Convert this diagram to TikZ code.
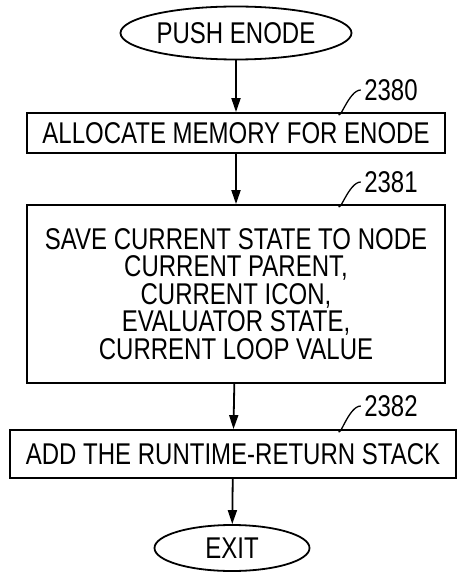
\documentclass[tikz,border=0pt]{standalone}
\usepackage{fontspec}
\setmainfont{Liberation Sans}[FakeStretch=0.8]
\usetikzlibrary{shapes.geometric,arrows.meta,calc}

\begin{document}
\begin{tikzpicture}[
  x=1pt, y=-1pt,
  every node/.style={font=\fontsize{30}{27.6}\selectfont},
  proc/.style={rectangle, draw, line width=1.8pt, minimum width=418pt, align=center, inner sep=2pt},
  term/.style={ellipse, draw, line width=1.8pt, inner sep=0pt},
  arr/.style={-{Triangle[length=14pt,width=9pt]}, line width=1.8pt},
  lead/.style={line width=1.3pt},
]
\useasboundingbox (0,0) rectangle (457,577);

\node[term, minimum width=231pt, minimum height=53pt] (push) at (236,33) {PUSH ENODE};
\node[proc, minimum height=40pt] (alloc) at (236,133) {ALLOCATE MEMORY FOR ENODE};
\node[proc, minimum height=178pt] (save) at (236,294) {SAVE CURRENT STATE TO NODE\\CURRENT PARENT,\\CURRENT ICON,\\EVALUATOR STATE,\\CURRENT LOOP VALUE};
\node[proc, minimum width=446pt, minimum height=48pt] (add) at (233,454) {ADD THE RUNTIME-RETURN STACK};
\node[term, minimum width=155pt, minimum height=46pt] (exit) at (232,548) {EXIT};

% reference numerals
\node (n2380) at (391,90) {2380};
\node (n2381) at (391,182) {2381};
\node (n2382) at (391,406) {2382};

\draw[arr] (push) -- (alloc);
\draw[arr] (alloc) -- (save);
\draw[arr] (save) -- (add);
\draw[arr] (add) -- (exit);

\draw[lead] ($(n2380.west |- alloc.north)+(-22,0)$) to[out=-90,in=180] (n2380.west);
\draw[lead] ($(n2381.west |- save.north)+(-22,0)$) to[out=-90,in=180] (n2381.west);
\draw[lead] ($(n2382.west |- add.north)+(-22,0)$) to[out=-90,in=180] (n2382.west);

\end{tikzpicture}
\end{document}
